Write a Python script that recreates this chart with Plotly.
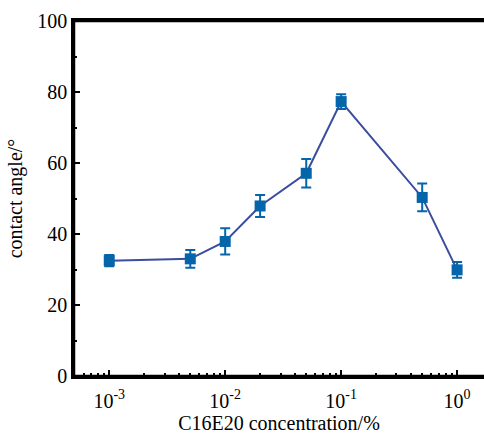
import plotly.graph_objects as go

conc = [0.001, 0.005, 0.01, 0.02, 0.05, 0.1, 0.5, 1.0]
angle = [32.5, 33.0, 37.9, 47.9, 57.1, 77.3, 50.3, 29.9]
err = [1.6, 2.5, 3.7, 3.1, 4.0, 2.1, 3.9, 2.2]

major_vals = [0.001, 0.01, 0.1, 1]
major_text = ["10<sup>-3</sup>", "10<sup>-2</sup>", "10<sup>-1</sup>", "10<sup>0</sup>"]
minor_vals = [m * d for d in [0.0001, 0.001, 0.01, 0.1, 1] for m in range(2, 10)]

fig = go.Figure()
fig.add_trace(go.Scatter(
    x=conc, y=angle, mode="lines+markers",
    line=dict(color="#3a4d9e", width=2),
    marker=dict(symbol="square", size=11, color="#0465ab"),
    error_y=dict(type="data", array=err, visible=True, color="#0465ab", thickness=2, width=5),
    showlegend=False,
))

font = "Liberation Serif"
fig.update_layout(
    width=484, height=434,
    margin=dict(l=74, r=0, t=21, b=58),
    plot_bgcolor="white", paper_bgcolor="white",
    font=dict(family=font, size=20, color="black"),
    xaxis=dict(
        type="log", range=[-3.304, 0.232],
        tickmode="array", tickvals=major_vals, ticktext=major_text,
        ticks="inside", ticklen=6, tickwidth=2, tickcolor="black",
        minor=dict(tickmode="array", tickvals=minor_vals, ticks="inside", ticklen=3, tickwidth=2, tickcolor="black"),
        showline=True, linecolor="#000000", linewidth=2.5, mirror=True,
        showgrid=False, zeroline=False,
        ticklabelstandoff=5,
        title=dict(text="C16E20 concentration/%", font=dict(family=font, size=20), standoff=4),
        tickfont=dict(family=font, size=20),
    ),
    yaxis=dict(
        range=[0, 100], dtick=20,
        ticks="inside", ticklen=6, tickwidth=2, tickcolor="black",
        minor=dict(dtick=10, ticks="inside", ticklen=3, tickwidth=2, tickcolor="black"),
        showline=True, linecolor="#000000", linewidth=2.5,
        showgrid=False, zeroline=False,
        title=dict(text="contact angle/°", font=dict(family=font, size=20), standoff=10),
        tickfont=dict(family=font, size=20),
    ),
    shapes=[
        dict(type="line", xref="paper", yref="paper", x0=0, x1=0, y0=0, y1=1, line=dict(color="#000000", width=2.5)),
        dict(type="line", xref="paper", yref="paper", x0=0, x1=1, y0=1, y1=1, line=dict(color="#000000", width=2.5)),
        dict(type="line", xref="paper", yref="paper", x0=0, x1=1, y0=0, y1=0, line=dict(color="#000000", width=2.5)),
    ],
)

fig.write_html("out.html")
